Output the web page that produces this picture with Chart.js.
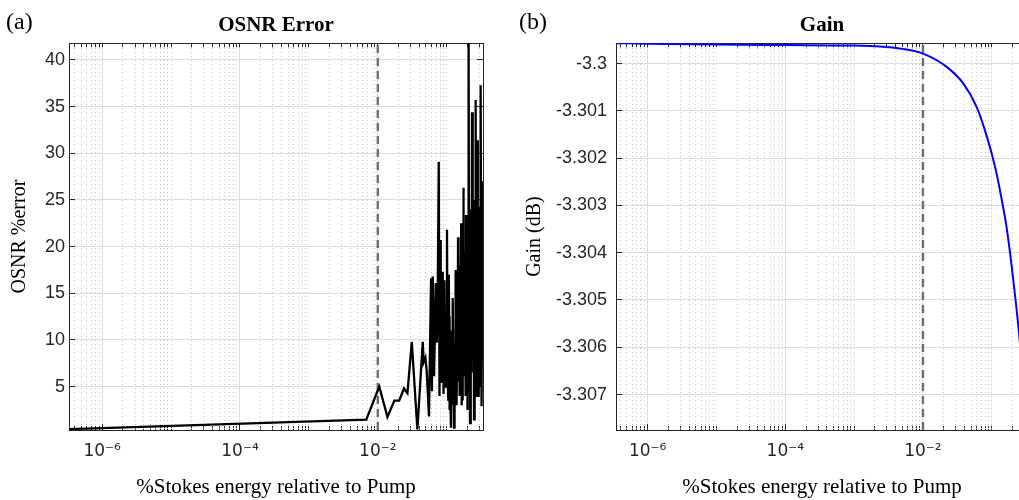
<!DOCTYPE html>
<html>
<head>
<meta charset="utf-8">
<script src="https://cdn.jsdelivr.net/npm/chart.js@4.4.0/dist/chart.umd.min.js"></script>
<style>
html, body { margin: 0; padding: 0; background: #fff; overflow: hidden; }
#wrap { position: relative; width: 1019px; height: 500px; overflow: hidden; background: #fff; }
canvas { position: absolute; top: 0; }
#osnrChart { left: 0; }
#gainChart { left: 510px; }
.tag { position: absolute; font-family: "Liberation Serif", serif; font-size: 24px; color: #000; line-height: 1; }
</style>
</head>
<body>
<div id="wrap">
  <canvas id="osnrChart" width="500" height="500"></canvas>
  <canvas id="gainChart" width="520" height="500"></canvas>
  <div class="tag" style="left:6px; top:9px;">(a)</div>
  <div class="tag" style="left:519px; top:9px;">(b)</div>
</div>
<script>
// axes communs
const xMajor = [1e-6, 1e-4, 1e-2];
const xMajorLabels = ['10⁻⁶', '10⁻⁴', '10⁻²'];
const markerX = 1e-2;

// (a) OSNR Error
const osnrTicks = [5, 10, 15, 20, 25, 30, 35, 40];
const osnrX = [3.3e-7, 1.0e-6, 6.8e-3, 1.05e-2, 1.38e-2, 1.74e-2, 2.04e-2, 2.40e-2, 2.69e-2,
  3.11e-2, 3.75e-2, 4.49e-2, 4.62e-2, 4.90e-2, 5.13e-2, 5.53e-2, 5.92e-2, 6.10e-2, 6.27e-2,
  6.55e-2, 6.93e-2, 7.16e-2, 7.40e-2, 7.66e-2, 7.85e-2, 8.00e-2, 8.18e-2, 8.36e-2, 8.55e-2,
  8.75e-2, 9.00e-2, 9.23e-2, 9.50e-2, 9.77e-2, 0.1009, 0.1030, 0.1054, 0.1070, 0.1085,
  0.1100, 0.1117, 0.1153, 0.1170, 0.1180, 0.1205, 0.1220, 0.1240, 0.1276, 0.1300,
  0.1320, 0.1345, 0.1365, 0.1380, 0.1400, 0.1420, 0.1442, 0.1460, 0.1475, 0.1490,
  0.1507, 0.1530, 0.1550, 0.1575, 0.1596, 0.1620, 0.1640, 0.1660, 0.1683, 0.1700,
  0.1710, 0.1725, 0.1742, 0.1765, 0.1790, 0.1815, 0.1841, 0.1855, 0.1870, 0.1890,
  0.1905, 0.1930, 0.1950, 0.1970, 0.1991, 0.2015, 0.2040, 0.2065, 0.2089, 0.2110,
  0.2130, 0.2155, 0.2178, 0.2210, 0.2250, 0.2290, 0.2328, 0.2360, 0.2400, 0.2445,
  0.2489, 0.2525, 0.2560, 0.2595, 0.2630, 0.2660, 0.2700, 0.2720, 0.2740, 0.2773,
  0.2805, 0.2840, 0.2875, 0.2911, 0.2940, 0.2970, 0.3005, 0.3041, 0.3080, 0.3105,
  0.3130, 0.3170, 0.3190, 0.3214, 0.3250, 0.3280, 0.3320, 0.3357];
const osnrY = [0.45, 0.55, 1.45, 5.0, 1.75, 3.5, 3.5, 4.8, 4.3,
  9.8, 0.4, 9.8, 7.6, 8.1, 6.6, 1.8, 16.6, 4.5, 16.8,
  6.1, 16.1, 9.7, 14.0, 29.1, 4.0, 20.7, 9.0, 5.4, 13.0,
  17.3, 4.2, 16.4, 8.0, 5.0, 21.8, 6.0, 3.6, 17.0, 12.5,
  2.5, 5.4, 0.6, 11.0, 8.5, 3.2, 14.5, 10.0, 0.6, 9.5,
  6.0, 17.5, 14.0, 4.5, 3.0, 13.0, 7.5, 21.0, 16.0, 5.5,
  18.0, 9.5, 4.0, 15.5, 6.5, 22.5, 12.0, 3.0, 20.4, 9.0,
  3.5, 18.0, 26.3, 11.0, 8.5, 19.5, 6.1, 14.0, 18.5, 4.0,
  23.4, 12.0, 5.0, 17.0, 2.5, 11.5, 15.0, 4.5, 45.0, 10.0,
  7.0, 24.0, 1.1, 13.0, 20.0, 6.5, 34.4, 12.0, 8.0, 25.0,
  1.5, 16.0, 22.0, 7.5, 35.7, 4.0, 5.7, 26.0, 19.0, 31.4,
  6.5, 9.0, 21.0, 3.9, 15.0, 18.0, 5.0, 24.3, 6.0, 28.0,
  37.3, 10.0, 20.0, 2.9, 14.0, 22.0, 8.0, 27.0];

// (b) Gain
const gainTicks = [-3.307, -3.306, -3.305, -3.304, -3.303, -3.302, -3.301, -3.3];
const gainTickLabels = ['-3.307', '-3.306', '-3.305', '-3.304', '-3.303', '-3.302', '-3.301', '-3.3'];
const gainX = [3.47e-7, 1e-6, 1e-5, 1e-4, 1e-3, 2.37e-3, 5e-3, 1e-2, 2.21e-2, 3.85e-2,
  6.04e-2, 8.43e-2, 0.1114, 0.1315, 0.1648, 0.1945, 0.2249, 0.2483, 0.2818];
const gainY = [-3.29957, -3.29958, -3.29960, -3.29961, -3.29962, -3.29964, -3.29969, -3.29979, -3.30007, -3.30042,
  -3.30092, -3.30153, -3.30218, -3.30268, -3.30348, -3.30428, -3.30508, -3.30568, -3.30658];

const serif = '"Liberation Serif", "Times New Roman", serif';
const sans = '"Liberation Sans", Arial, sans-serif';
const axisColor = '#262626';
const isMajor = v => xMajor.some(t => Math.abs(t - v) < v * 1e-6);

// graduations mineures (2..9 x 10^k et décades non étiquetées)
function minorTicks(min, max, withMajor) {
  const out = [];
  for (let e = -8; e <= 0; e++) {
    for (let m = 1; m < 10; m++) {
      const v = m * Math.pow(10, e);
      if (v > min && v < max && (withMajor || !isMajor(v))) out.push({ value: v });
    }
  }
  return out;
}

function makeChart(id, cfg) {
  return new Chart(document.getElementById(id), {
    type: 'line',
    data: {
      datasets: [
        {
          data: cfg.xs.map((x, i) => ({ x, y: cfg.ys[i] })),
          borderColor: cfg.color,
          borderWidth: cfg.lineWidth,
          pointRadius: 0,
          cubicInterpolationMode: cfg.smooth ? 'monotone' : 'default',
          tension: 0
        },
        {
          data: [{ x: markerX, y: cfg.yMin }, { x: markerX, y: cfg.yMax }],
          borderColor: '#707070',
          borderWidth: 2.5,
          borderDash: [8, 5],
          pointRadius: 0
        }
      ]
    },
    options: {
      responsive: false,
      animation: false,
      layout: { padding: { top: 0, left: 0, right: cfg.padRight, bottom: 0 } },
      plugins: {
        legend: { display: false },
        tooltip: { enabled: false },
        title: {
          display: true,
          fullSize: false,
          text: cfg.title,
          color: '#000',
          font: { family: serif, size: 21, weight: 'bold' },
          padding: { top: 13, bottom: 5 }
        }
      },
      scales: {
        x: {
          type: 'logarithmic',
          position: 'bottom',
          min: cfg.xMin,
          max: cfg.xMax,
          afterBuildTicks: s => { s.ticks = xMajor.map(v => ({ value: v })); },
          afterFit: s => { s.height = 70; },
          ticks: {
            callback: (v, i) => xMajorLabels[i],
            color: axisColor,
            font: { family: '"DejaVu Sans", sans-serif', size: 17 },
            padding: 17,
            maxRotation: 0,
            autoSkip: false
          },
          grid: { color: '#dcdcdc', drawTicks: true, tickLength: -6, tickColor: axisColor },
          border: { color: axisColor, width: 1 },
          title: {
            display: true,
            text: '%Stokes energy relative to Pump',
            color: '#000',
            font: { family: serif, size: 21 },
            padding: { top: 0, bottom: 0 }
          }
        },
        xMinorBottom: {
          type: 'logarithmic',
          position: 'bottom',
          weight: -1,
          min: cfg.xMin,
          max: cfg.xMax,
          afterBuildTicks: s => { s.ticks = minorTicks(cfg.xMin, cfg.xMax, false); },
          afterFit: s => { s.height = 0; },
          ticks: { display: false },
          grid: { drawOnChartArea: false, drawTicks: true, tickLength: -4, tickColor: axisColor },
          border: { display: false }
        },
        x2: {
          type: 'logarithmic',
          position: 'top',
          min: cfg.xMin,
          max: cfg.xMax,
          afterBuildTicks: s => { s.ticks = minorTicks(cfg.xMin, cfg.xMax, true); },
          afterFit: s => { s.height = 0; },
          ticks: { display: false },
          grid: {
            color: ctx => (ctx.tick && isMajor(ctx.tick.value)) ? 'rgba(0,0,0,0)' : '#c8c8c8',
            drawTicks: true,
            tickLength: -4,
            tickColor: axisColor
          },
          border: { color: axisColor, width: 1, dash: [1, 3] }
        },
        y: {
          type: 'linear',
          position: 'left',
          min: cfg.yMin,
          max: cfg.yMax,
          afterBuildTicks: s => { s.ticks = cfg.yTicks.map(v => ({ value: v })); },
          afterFit: s => { s.width = cfg.yWidth; },
          ticks: {
            callback: (v, i) => cfg.yLabels[i],
            color: axisColor,
            font: { family: sans, size: 18 },
            padding: cfg.yTickPad + 6
          },
          grid: { color: '#dcdcdc', drawTicks: true, tickLength: -6, tickColor: axisColor },
          border: { color: axisColor, width: 1 },
          title: {
            display: true,
            text: cfg.yTitle,
            color: '#000',
            font: { family: serif, size: 20 },
            padding: { top: cfg.yTitlePad, bottom: 0 }
          }
        },
        y2: {
          type: 'linear',
          position: 'right',
          min: cfg.yMin,
          max: cfg.yMax,
          afterBuildTicks: s => { s.ticks = cfg.yTicks.map(v => ({ value: v })); },
          afterFit: s => { s.width = 0; },
          ticks: { display: false },
          grid: { drawOnChartArea: false, drawTicks: true, tickLength: -6, tickColor: axisColor },
          border: { color: axisColor, width: 1 }
        }
      }
    }
  });
}

makeChart('osnrChart', {
  title: 'OSNR Error',
  xs: osnrX, ys: osnrY, color: '#000000', smooth: false, lineWidth: 2.3,
  xMin: 3.3e-7, xMax: 0.336,
  yMin: 0.35, yMax: 41.8,
  yTicks: osnrTicks, yLabels: osnrTicks.map(String),
  yTitle: 'OSNR %error', yTitlePad: 8, yTickPad: 4,
  yWidth: 69, padRight: 17
});

makeChart('gainChart', {
  title: 'Gain',
  xs: gainX, ys: gainY, color: '#0000ff', smooth: true, lineWidth: 2,
  xMin: 3.47e-7, xMax: 0.336,
  yMin: -3.30775, yMax: -3.29957,
  yTicks: gainTicks, yLabels: gainTickLabels,
  yTitle: 'Gain (dB)', yTitlePad: 13, yTickPad: 9,
  yWidth: 106, padRight: 2
});
</script>
</body>
</html>
